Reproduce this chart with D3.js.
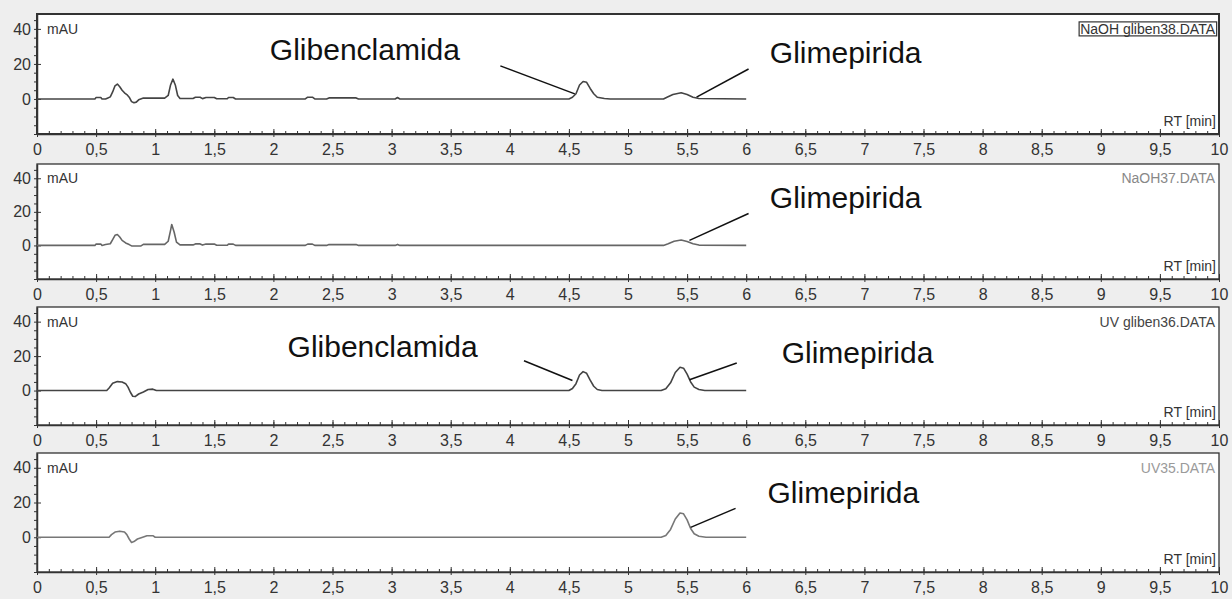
<!DOCTYPE html>
<html>
<head>
<meta charset="utf-8">
<script src="https://cdn.jsdelivr.net/npm/d3@7"></script>
<style>
  html, body { margin: 0; padding: 0; background: #eeeeee; }
  svg { display: block; font-family: "Liberation Sans", Arial, sans-serif; }
</style>
</head>
<body>
<svg id="chart" width="1232" height="599"></svg>
<script>
// ---- data ----
const fileLabels = ['NaOH gliben38.DATA', 'NaOH37.DATA', 'UV gliben36.DATA', 'UV35.DATA'];
const xTickValues = [0, 0.5, 1, 1.5, 2, 2.5, 3, 3.5, 4, 4.5, 5, 5.5, 6, 6.5, 7, 7.5, 8, 8.5, 9, 9.5, 10];
const yTickValues = [0, 20, 40];
const yUnit = 'mAU';
const xUnit = 'RT [min]';

// [time (min), signal (mAU)]
const traceNaOH38 = [
  [0, 0], [0.49, 0], [0.5, 0.8], [0.54, 0.8], [0.55, 0], [0.58, 0], [0.6, 0.6], [0.62, 1.2],
  [0.64, 4], [0.66, 7.5], [0.68, 8.5], [0.7, 7], [0.72, 5], [0.74, 3.5], [0.76, 2.5], [0.78, 1],
  [0.8, -1.5], [0.82, -2.2], [0.84, -1.8], [0.86, -0.5], [0.9, 0.5], [1.08, 0.5], [1.11, 2],
  [1.13, 8], [1.15, 11.3], [1.17, 8], [1.19, 2], [1.21, 0.3], [1.32, 0.3], [1.34, 1], [1.38, 1],
  [1.4, 0.2], [1.43, 0.8], [1.5, 0.8], [1.52, 0.1], [1.61, 0.1], [1.62, 0.8], [1.66, 0.8], [1.68, 0],
  [2.27, 0], [2.29, 1], [2.33, 1], [2.35, 0], [2.45, 0], [2.47, 0.6], [2.7, 0.6], [2.72, 0],
  [3.03, 0], [3.05, 0.8], [3.07, 0], [4.5, 0], [4.53, 1], [4.56, 3], [4.59, 8], [4.62, 10],
  [4.65, 9.5], [4.68, 6], [4.71, 3], [4.74, 1], [4.8, 0.3], [4.85, 0], [5.3, 0], [5.33, 1],
  [5.38, 2.5], [5.45, 3.5], [5.5, 2.5], [5.55, 1], [5.6, 0.3], [6, 0]
];
const traceNaOH37 = [
  [0, 0], [0.49, 0], [0.5, 0.8], [0.54, 0.8], [0.55, 0], [0.58, 0.5], [0.62, 1],
  [0.64, 3.5], [0.66, 6], [0.68, 6.5], [0.7, 5], [0.72, 3], [0.75, 1.5], [0.78, 0.5],
  [0.8, -0.3], [0.88, -0.3], [0.9, 0.6], [1.08, 0.6], [1.11, 2.5], [1.13, 9], [1.14, 12.5],
  [1.16, 8], [1.18, 2], [1.21, 0.3], [1.32, 0.3], [1.34, 0.9], [1.38, 0.9], [1.4, 0.2],
  [1.43, 0.8], [1.5, 0.8], [1.52, 0.1], [1.61, 0.1], [1.62, 0.8], [1.66, 0.8], [1.68, 0],
  [2.27, 0], [2.29, 0.8], [2.33, 0.8], [2.35, 0], [2.45, 0], [2.47, 0.5], [2.7, 0.5], [2.72, 0],
  [3.03, 0], [3.05, 0.6], [3.07, 0], [5.3, 0], [5.34, 1], [5.39, 2.5], [5.45, 3.2],
  [5.5, 2.3], [5.55, 1], [5.6, 0.2], [6, 0]
];
const traceUVgliben36 = [
  [0, 0], [0.59, 0], [0.61, 1.5], [0.64, 4.2], [0.68, 5.2], [0.72, 5], [0.75, 4], [0.77, 2],
  [0.79, -1], [0.81, -3.3], [0.83, -3.5], [0.86, -2], [0.9, -0.8], [0.94, 0.6], [0.98, 0.8],
  [1.01, 0], [4.5, 0], [4.53, 1.2], [4.56, 4], [4.59, 9], [4.62, 11], [4.65, 10], [4.68, 6],
  [4.71, 2.5], [4.74, 0.6], [4.78, 0], [5.28, 0], [5.32, 1], [5.36, 4.5], [5.4, 10.5],
  [5.44, 13.5], [5.47, 13], [5.5, 9.5], [5.53, 5], [5.56, 2], [5.6, 0.6], [5.65, 0], [6, 0]
];
const traceUV35 = [
  [0, 0], [0.61, 0], [0.63, 1.5], [0.66, 3], [0.7, 3.5], [0.74, 3], [0.76, 1.5], [0.78, -1],
  [0.8, -3], [0.82, -2.5], [0.85, -1], [0.9, 0.2], [0.93, 0.9], [0.98, 0.9], [1.0, 0],
  [5.28, 0], [5.32, 1], [5.36, 4.5], [5.4, 10.5], [5.44, 14], [5.47, 13.5], [5.5, 10],
  [5.53, 5], [5.56, 2], [5.6, 0.6], [5.66, 0], [6, 0]
];
const traces = [traceNaOH38, traceNaOH37, traceUVgliben36, traceUV35];

// annotations: text and leader line, in data units (time, mAU)
const annotations = [
  [
    { text: 'Glibenclamida', tx: 1.97, ty: 22, from: [3.92, 18.9], to: [4.55, 2.9] },
    { text: 'Glimepirida', tx: 6.2, ty: 20.6, from: [6.02, 17.1], to: [5.58, 1.1] }
  ],
  [
    { text: 'Glimepirida', tx: 6.2, ty: 22, from: [6.02, 19], to: [5.52, 3] }
  ],
  [
    { text: 'Glibenclamida', tx: 2.12, ty: 19.6, from: [4.12, 17.3], to: [4.53, 5.8] },
    { text: 'Glimepirida', tx: 6.3, ty: 16, from: [5.92, 16], to: [5.52, 6.3] }
  ],
  [
    { text: 'Glimepirida', tx: 6.18, ty: 20, from: [5.91, 16.6], to: [5.53, 5.7] }
  ]
];

// ---- layout ----
const panelTop = [14, 164, 307, 453];
const panelBottom = [134, 279, 425, 572];
const left = 37, right = 1219;
const labelColor = ['#333', '#888', '#444', '#9a9a9a'];
const traceColor = ['#444', '#666', '#444', '#777'];

const svg = d3.select('#chart');
const x = d3.scaleLinear().domain([0, 10]).range([left, right]);
const fmt = d => String(d).replace('.', ',');

panelTop.forEach((top, i) => {
  const bottom = panelBottom[i];
  const y = d3.scaleLinear().domain([-20, 48.5]).range([bottom, top]);
  const g = svg.append('g');

  // plot area
  g.append('rect')
    .attr('x', left).attr('y', top)
    .attr('width', right - left).attr('height', bottom - top)
    .attr('fill', '#fff')
    .attr('stroke', '#333')
    .attr('stroke-width', i === 0 ? 2 : 1.3);

  // x axis minor ticks (inside)
  g.append('g')
    .attr('transform', 'translate(0,' + bottom + ')')
    .call(d3.axisBottom(x).tickValues(d3.range(0, 10.01, 0.1)).tickSizeInner(-3).tickSizeOuter(0).tickFormat(''))
    .call(a => a.select('.domain').remove())
    .selectAll('line').attr('stroke', '#333');

  // x axis major ticks + labels
  g.append('g')
    .attr('transform', 'translate(0,' + bottom + ')')
    .call(d3.axisBottom(x).tickValues(xTickValues).tickSizeInner(3).tickSizeOuter(0).tickPadding(7).tickFormat(fmt))
    .call(a => a.select('.domain').attr('stroke', '#333').attr('stroke-width', 1.5))
    .call(a => a.selectAll('.tick line').attr('y1', -5).attr('stroke', '#333'))
    .call(a => a.selectAll('text').attr('font-size', 16).attr('fill', '#333').attr('font-family', '"Liberation Sans", Arial, sans-serif'));

  // y axis minor ticks
  g.append('g')
    .attr('transform', 'translate(' + left + ',0)')
    .call(d3.axisLeft(y).tickValues(d3.range(-20, 46, 5)).tickSizeInner(3).tickSizeOuter(0).tickFormat(''))
    .call(a => a.select('.domain').remove())
    .selectAll('line').attr('stroke', '#333');

  // y axis major ticks + labels
  g.append('g')
    .attr('transform', 'translate(' + left + ',0)')
    .call(d3.axisLeft(y).tickValues(yTickValues).tickSizeInner(4).tickSizeOuter(0).tickPadding(2))
    .call(a => a.select('.domain').attr('stroke', '#333').attr('stroke-width', 1.5))
    .call(a => a.selectAll('.tick line').attr('x2', 4).attr('stroke', '#333'))
    .call(a => a.selectAll('text').attr('font-size', 16).attr('fill', '#333').attr('font-family', '"Liberation Sans", Arial, sans-serif'));

  // unit labels
  g.append('text')
    .attr('x', left + 10).attr('y', y(40) + 5)
    .attr('font-size', 14).attr('fill', '#333')
    .text(yUnit);
  g.append('text')
    .attr('x', right - 3).attr('y', bottom - 8)
    .attr('text-anchor', 'end')
    .attr('font-size', 14).attr('fill', '#333')
    .text(xUnit);

  // file label
  const fl = g.append('text')
    .attr('x', right - 4).attr('y', y(40) + 5)
    .attr('text-anchor', 'end')
    .attr('font-size', 14).attr('fill', labelColor[i])
    .text(fileLabels[i]);
  if (i === 0) {
    const bb = fl.node().getBBox();
    g.append('rect')
      .attr('x', bb.x - 1).attr('y', bb.y + 1)
      .attr('width', bb.width + 2).attr('height', bb.height - 2)
      .attr('fill', 'none').attr('stroke', '#333').attr('stroke-width', 1.2);
  }

  // trace
  const line = d3.line().x(d => x(d[0])).y(d => y(d[1]));
  g.append('path')
    .datum(traces[i])
    .attr('d', line)
    .attr('fill', 'none')
    .attr('stroke', traceColor[i])
    .attr('stroke-width', 1.6)
    .attr('stroke-linejoin', 'round');

  // annotations
  annotations[i].forEach(an => {
    g.append('line')
      .attr('x1', x(an.from[0])).attr('y1', y(an.from[1]))
      .attr('x2', x(an.to[0])).attr('y2', y(an.to[1]))
      .attr('stroke', '#111').attr('stroke-width', 1.5);
    g.append('text')
      .attr('x', x(an.tx)).attr('y', y(an.ty))
      .attr('font-size', 30).attr('fill', '#111')
      .text(an.text);
  });
});
</script>
</body>
</html>
